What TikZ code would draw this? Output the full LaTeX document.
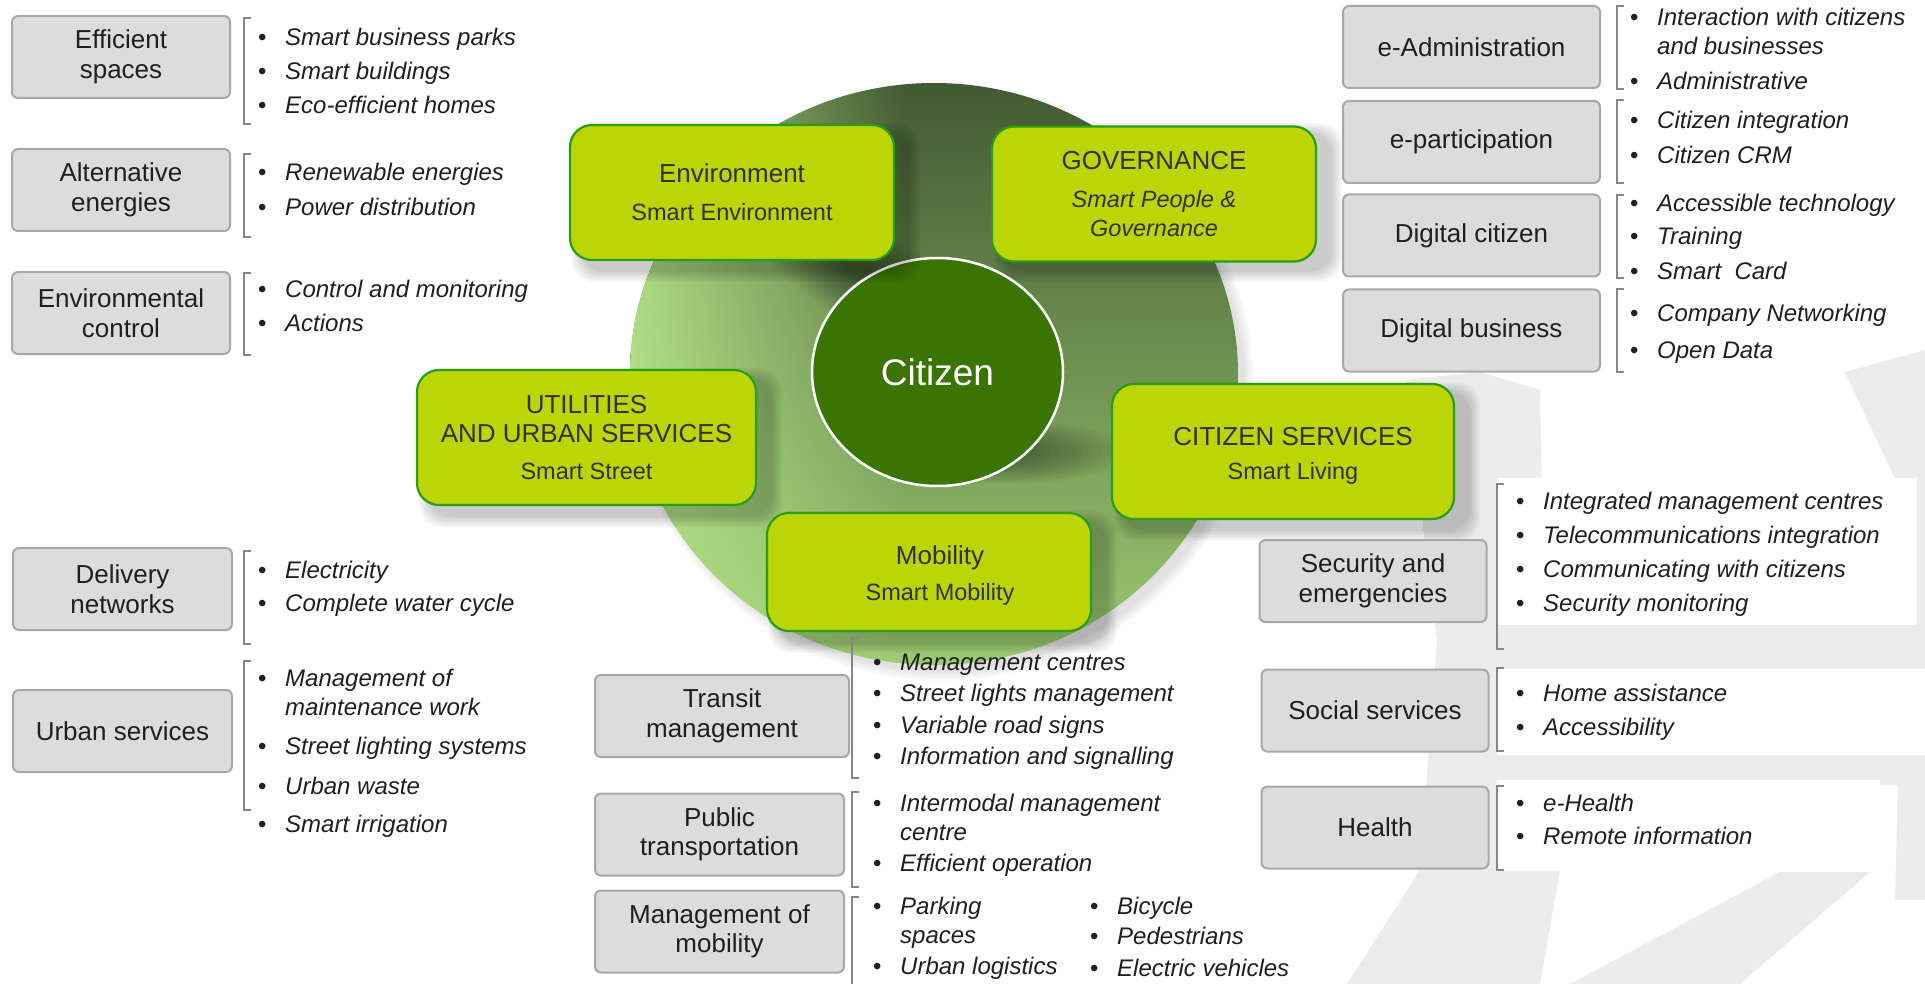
\documentclass[tikz,border=0pt]{standalone}
\usepackage{fontspec}
\setmainfont{Liberation Sans}
\usetikzlibrary{positioning,shapes.geometric,fadings}

\definecolor{limefill}{RGB}{188,213,6}
\definecolor{limeline}{RGB}{38,158,22}
\definecolor{limetext}{RGB}{50,50,45}
\definecolor{boxfill}{RGB}{220,220,220}
\definecolor{boxline}{RGB}{168,168,168}
\definecolor{brkline}{RGB}{135,135,135}
\definecolor{circdark}{RGB}{66,90,50}
\definecolor{circmid}{RGB}{158,203,116}
\definecolor{circlight}{RGB}{184,230,140}
\definecolor{citfill}{RGB}{58,117,4}
\definecolor{wmark}{RGB}{236,236,236}

\tikzfading[name=lightleft, left color=transparent!0, right color=transparent!100]

\newcommand{\boxfont}{\fontsize{26}{29.5}\selectfont}
\newcommand{\itmfont}{\fontsize{24}{29}\selectfont\itshape}
\newcommand{\ttlfont}{\fontsize{26}{29.5}\selectfont}
\newcommand{\subfont}{\fontsize{23.5}{29}\selectfont}
\newcommand{\bul}{\makebox[27pt][l]{\upshape\textbullet}}
% bracket: x, top, bottom
\newcommand{\brkt}[3]{\draw[brk] (#1+7,#2) -- (#1,#2) -- (#1,#3) -- (#1+7,#3);}
% soft shadow behind a lime box
\newcommand{\lshadow}[4]{\foreach \k in {1,...,6}{\fill[black,opacity=.035,rounded corners=22pt] (#1+14-\k*2,#2+10-\k*2) rectangle (#3+14+\k*2,#4+10+\k*2);}}

\tikzset{
  greybox/.style={draw=boxline, line width=2pt, fill=boxfill, rounded corners=6pt,
    align=center, font=\boxfont, text=black!88, minimum height=82pt, inner sep=2pt},
  limebox/.style={draw=limeline, line width=2.2pt, fill=limefill, rounded corners=22pt,
    align=center, font=\ttlfont, text=limetext, minimum height=135pt, minimum width=324pt, inner sep=2pt},
  itm/.style={anchor=base west, inner sep=0pt, font=\itmfont, text=black!88},
  brk/.style={draw=brkline, line width=1.5pt},
  citz/.style={ellipse, draw=white, line width=2.5pt, fill=citfill, text=white,
    font=\fontsize{37}{40}\selectfont, minimum width=251pt, minimum height=228pt},
}

\begin{document}
\begin{tikzpicture}[x=1pt,y=-1pt]
\useasboundingbox (0,0) rectangle (1925,984);
\fill[white] (0,0) rectangle (1925,984);

% watermark in the back
\fill[wmark] (1405,380) -- (1480,372) -- (1540,390) -- (1545,640) -- (1560,870) -- (1540,984) -- (1347,984) -- (1420,870) -- (1437,640) -- cycle;
\fill[wmark] (1780,872) -- (1870,872) -- (1740,984) -- (1570,984) -- cycle;
\fill[wmark] (1845,372) -- (1925,350) -- (1925,900) -- (1895,900) -- (1905,500) -- cycle;
\fill[wmark] (1545,625) -- (1925,625) -- (1925,785) -- (1545,785) -- cycle;
\fill[white] (1497,478) rectangle (1917,625);
\fill[white] (1497,669) rectangle (1925,755);
\fill[white] (1497,780) rectangle (1880,871);
\fill[white] (852,883) rectangle (1346,984);

% big disc
\foreach \k in {1,...,6}{\fill[black,opacity=.02] (942,382) ellipse [x radius={300+\k*2}, y radius={287+\k*2}];}
\shade[top color=circdark, bottom color=circmid] (934,374) ellipse [x radius=304, y radius=291];
\begin{scope}
  \clip (934,374) ellipse [x radius=304, y radius=291];
  \fill[circlight, path fading=lightleft] (600,70) rectangle (905,700);
\end{scope}
\foreach \k in {1,...,18}{\fill[black,opacity=.022] (1000,452) ellipse [x radius={135-\k*6.5}, y radius={34-\k*1.5}];}
\foreach \k in {1,...,18}{\fill[black,opacity=.022, rotate around={-24:(858,272)}] (858,272) ellipse [x radius={105-\k*5}, y radius={48-\k*2.2}];}

\node[citz] (cit) at (937.5,372) {Citizen};

% shadows of the lime boxes
\lshadow{570}{125}{894}{260}
\lshadow{992}{125}{1316}{260}
\lshadow{417}{370}{756}{505}
\lshadow{1112}{384}{1454}{519}
\lshadow{767}{513}{1091}{631}

\node[limebox] (env) at (732,192.5) {Environment\\[8.5pt]\subfont Smart Environment};
\node[limebox] (gov) at (1154,194) {GOVERNANCE\\[8.5pt]\subfont\itshape Smart People \&\\\subfont\itshape Governance};
\node[limebox, minimum width=339pt] (util) at (586.5,437.5) {UTILITIES\\AND URBAN SERVICES\\[7.5pt]\subfont Smart Street};
\node[limebox, minimum width=342pt] (csv) at (1283,451.5) {\hspace*{20pt}CITIZEN SERVICES\rule{0pt}{27pt}\\[4.5pt]\hspace*{20pt}\subfont Smart Living};
\node[limebox, minimum height=118pt] (mob) at (929,572) {\hspace*{22pt}Mobility\rule{0pt}{26pt}\\[6.5pt]\hspace*{22pt}\subfont Smart Mobility};

% left column
\node[greybox, minimum width=218pt] (effsp) at (121,57) {Efficient\\spaces};
\node[greybox, minimum width=218pt] (alten) at (121,190) {Alternative\\energies};
\node[greybox, minimum width=218pt] (envctl) at (121,313) {Environmental\\control};
\node[greybox, minimum width=219pt] (delnet) at (122.5,589) {Delivery\\networks};
\node[greybox, minimum width=219pt] (urbsv) at (122.5,731) {Urban services};

\brkt{244}{18}{124}
\brkt{244}{154}{237}
\brkt{244}{273}{355}
\brkt{244}{551}{644}
\brkt{244}{661}{810}

\node[itm] (es1) at (258,46) {\bul Smart business parks};
\node[itm] (es2) at (258,80) {\bul Smart buildings};
\node[itm] (es3) at (258,114) {\bul Eco-efficient homes};
\node[itm] (ae1) at (258,181) {\bul Renewable energies};
\node[itm] (ae2) at (258,216) {\bul Power distribution};
\node[itm] (ec1) at (258,298) {\bul Control and monitoring};
\node[itm] (ec2) at (258,331) {\bul Actions};
\node[itm] (dn1) at (258,578) {\bul Electricity};
\node[itm] (dn2) at (258,611) {\bul Complete water cycle};
\node[itm] (us1) at (258,686) {\bul\begin{tabular}[t]{@{}l@{}}Management of\\maintenance work\end{tabular}};
\node[itm] (us2) at (258,754) {\bul Street lighting systems};
\node[itm] (us3) at (258,794) {\bul Urban waste};
\node[itm] (us4) at (258,832) {\bul Smart irrigation};

% right column, top
\node[greybox, minimum width=257pt] (eadm) at (1471.5,47) {e-Administration};
\node[greybox, minimum width=257pt] (epart) at (1471.5,142) {e-participation};
\node[greybox, minimum width=257pt] (digcit) at (1471.5,235.5) {Digital citizen};
\node[greybox, minimum width=257pt] (digbus) at (1471.5,330.5) {Digital business};

\brkt{1617}{6}{89}
\brkt{1617}{100}{183}
\brkt{1617}{195}{278}
\brkt{1617}{289}{372}

\node[itm] (ea1) at (1630,26) {\bul\begin{tabular}[t]{@{}l@{}}Interaction with citizens\\and businesses\end{tabular}};
\node[itm] (ea2) at (1630,90) {\bul Administrative};
\node[itm] (ep1) at (1630,129) {\bul Citizen integration};
\node[itm] (ep2) at (1630,164) {\bul Citizen CRM};
\node[itm] (dc1) at (1630,212) {\bul Accessible technology};
\node[itm] (dc2) at (1630,245) {\bul Training};
\node[itm] (dc3) at (1630,280) {\bul Smart\ \ Card};
\node[itm] (db1) at (1630,322) {\bul Company Networking};
\node[itm] (db2) at (1630,358) {\bul Open Data};

% right column, bottom
\node[greybox, minimum width=227pt] (secem) at (1373,581) {Security and\\emergencies};
\node[greybox, minimum width=227pt] (socsv) at (1375,710.5) {Social services};
\node[greybox, minimum width=227pt] (health) at (1375,827.5) {Health};

\brkt{1497}{484}{649}
\brkt{1497}{668}{751}
\brkt{1497}{786}{870}

\node[itm] (se1) at (1516,509) {\bul Integrated management centres};
\node[itm] (se2) at (1516,543) {\bul Telecommunications integration};
\node[itm] (se3) at (1516,577) {\bul Communicating with citizens};
\node[itm] (se4) at (1516,611) {\bul Security monitoring};
\node[itm] (ss1) at (1516,701) {\bul Home assistance};
\node[itm] (ss2) at (1516,735) {\bul Accessibility};
\node[itm] (he1) at (1516,811) {\bul e-Health};
\node[itm] (he2) at (1516,844) {\bul Remote information};

% mobility, bottom middle
\node[greybox, minimum width=254pt] (trans) at (722,716) {Transit\\management};
\node[greybox, minimum width=249pt] (pubtr) at (719.5,834.5) {Public\\transportation};
\node[greybox, minimum width=249pt] (mgmob) at (719.5,931.5) {Management of\\mobility};

\brkt{852}{638}{778}
\brkt{852}{792}{887}
\brkt{852}{897}{990}

\node[itm] (tm1) at (873,670) {\bul Management centres};
\node[itm] (tm2) at (873,701) {\bul Street lights management};
\node[itm] (tm3) at (873,733) {\bul Variable road signs};
\node[itm] (tm4) at (873,764) {\bul Information and signalling};
\node[itm] (pt1) at (873,811) {\bul\begin{tabular}[t]{@{}l@{}}Intermodal management\\centre\end{tabular}};
\node[itm] (pt2) at (873,871) {\bul Efficient operation};
\node[itm] (mm1) at (873,914) {\bul\begin{tabular}[t]{@{}l@{}}Parking\\spaces\end{tabular}};
\node[itm] (mm2) at (873,974) {\bul Urban logistics};
\node[itm] (mm3) at (1090,914) {\bul Bicycle};
\node[itm] (mm4) at (1090,944) {\bul Pedestrians};
\node[itm] (mm5) at (1090,976) {\bul Electric vehicles};
\end{tikzpicture}
\end{document}
